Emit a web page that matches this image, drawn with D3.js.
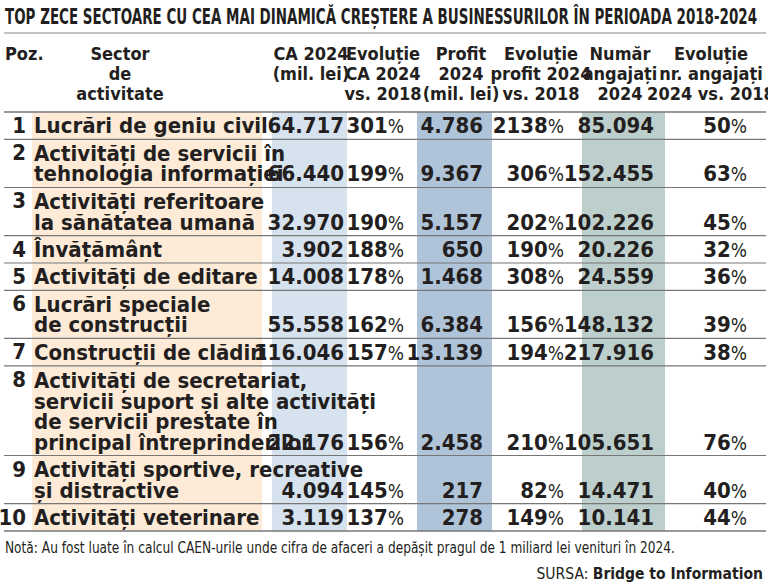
<!DOCTYPE html>
<html><head><meta charset="utf-8">
<script src="https://cdn.jsdelivr.net/npm/d3@7"></script>
<style>
body{margin:0;background:#fff}
text{font-family:"Liberation Sans Narrow","DejaVu Sans Condensed",sans-serif;fill:#231f20}
</style></head>
<body><svg width="768" height="586"></svg>
<script>
const sectors = [
  ["Lucrări de geniu civil"],
  ["Activități de servicii în", "tehnologia informației"],
  ["Activități referitoare", "la sănătatea umană"],
  ["Învățământ"],
  ["Activități de editare"],
  ["Lucrări speciale", "de construcții"],
  ["Construcții de clădiri"],
  ["Activități de secretariat,", "servicii suport și alte activități", "de servicii prestate în", "principal întreprinderilor"],
  ["Activități sportive, recreative", "și distractive"],
  ["Activități veterinare"]
];
const ca2024 = ["64.717","66.440","32.970","3.902","14.008","55.558","116.046","22.176","4.094","3.119"];
const evolCa = [301,199,190,188,178,162,157,156,145,137];
const profit2024 = ["4.786","9.367","5.157","650","1.468","6.384","13.139","2.458","217","278"];
const evolProfit = [2138,306,202,190,308,156,194,210,82,149];
const angajati = ["85.094","152.455","102.226","20.226","24.559","148.132","217.916","105.651","14.471","10.141"];
const evolAngajati = [50,63,45,32,36,39,38,76,40,44];
const headers = [
  ["Poz."], ["Sector","de","activitate"], ["CA 2024","(mil. lei)"], ["Evoluție","CA 2024","vs. 2018"],
  ["Profit","2024","(mil. lei)"], ["Evoluție","profit 2024","vs. 2018"], ["Număr","angajați","2024"],
  ["Evoluție","nr. angajați","2024 vs. 2018"]
];

const svg = d3.select("svg");
const tableTop = 112, tableBottom = 531;
// row heights from line counts
const hs = sectors.map(s => 27 + 20.5 * (s.length - 1));
const ys = d3.scaleLinear().domain([0, d3.sum(hs)]).range([tableTop, tableBottom]);
let acc = 0;
const rows = sectors.map((s, i) => { const r = {y0: ys(acc), y1: ys(acc + hs[i])}; acc += hs[i]; return r; });

// column bands
const bands = [[32,262,"#fdebd8"],[272,347,"#d6e2ee"],[417,492,"#b0c4d9"],[582,665,"#bccfcc"]];
svg.selectAll("rect.band").data(bands).join("rect")
  .attr("x", d => d[0]).attr("width", d => d[1]-d[0])
  .attr("y", tableTop).attr("height", tableBottom-tableTop).attr("fill", d => d[2]);

// title
svg.append("text").attr("x", 5).attr("y", 24).attr("font-size", 21).attr("font-weight", "bold")
  .attr("textLength", 752).attr("lengthAdjust", "spacingAndGlyphs")
  .text("TOP ZECE SECTOARE CU CEA MAI DINAMICĂ CREȘTERE A BUSINESSURILOR ÎN PERIOADA 2018-2024");
svg.append("line").attr("x1", 4).attr("x2", 766).attr("y1", 33).attr("y2", 33).attr("stroke", "#888").attr("stroke-width", 1);

// header
const hx = [[5,"start"],[120,"middle"],[311,"middle"],[383,"middle"],[461,"middle"],[541,"middle"],[620,"middle"],[711,"middle"]];
headers.forEach((h, i) => {
  h.forEach((t, j) => svg.append("text").attr("x", hx[i][0]).attr("y", 60 + j*20)
    .attr("text-anchor", hx[i][1]).attr("font-size", 18).attr("font-weight", "bold").text(t));
});

// row lines
const lineYs = [tableTop].concat(rows.map(r => r.y1));
svg.selectAll("line.row").data(lineYs).join("line")
  .attr("x1", 4).attr("x2", 766).attr("y1", d => d).attr("y2", d => d)
  .attr("stroke", "#777").attr("stroke-width", (d, i) => i === 0 || i === lineYs.length-1 ? 1.5 : 1.2);

const fs = 22;
rows.forEach((r, i) => {
  const base = r.y1 - 6;
  const n = sectors[i].length;
  svg.append("text").attr("x", 26).attr("y", r.y0 + 21).attr("text-anchor", "end")
    .attr("font-size", fs).attr("font-weight", "bold").text(i + 1);
  sectors[i].forEach((t, j) => svg.append("text").attr("x", 34).attr("y", base - (n-1-j)*20.5)
    .attr("font-size", fs).attr("font-weight", "bold").text(t));
  const num = (x, t) => svg.append("text").attr("x", x).attr("y", base).attr("text-anchor", "end")
    .attr("font-size", fs).attr("font-weight", "bold").text(t);
  const pct = (x, v) => { const t = svg.append("text").attr("x", x).attr("y", base).attr("text-anchor", "end")
    .attr("font-size", fs).attr("font-weight", "bold");
    t.append("tspan").text(v); t.append("tspan").attr("font-weight", "normal").attr("font-size", 19).text("%"); };
  num(344, ca2024[i]); pct(404, evolCa[i]);
  num(483, profit2024[i]); pct(564, evolProfit[i]);
  num(654, angajati[i]); pct(747, evolAngajati[i]);
});

svg.append("text").attr("x", 5).attr("y", 553).attr("font-size", 15.5)
  .attr("textLength", 670).attr("lengthAdjust", "spacingAndGlyphs")
  .text("Notă: Au fost luate în calcul CAEN-urile unde cifra de afaceri a depășit pragul de 1 miliard lei venituri în 2024.");
const s = svg.append("text").attr("x", 763).attr("y", 579).attr("text-anchor", "end").attr("font-size", 15.5);
s.append("tspan").text("SURSA: ");
s.append("tspan").attr("font-weight", "bold").text("Bridge to Information");
</script></body></html>
